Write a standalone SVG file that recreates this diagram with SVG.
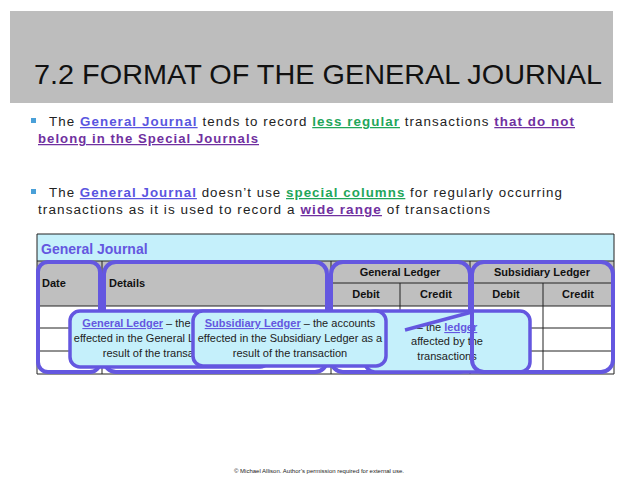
<svg xmlns="http://www.w3.org/2000/svg" width="638" height="479" viewBox="0 0 638 479">
<style>
.b{font-family:"Liberation Sans",Arial,sans-serif;font-size:12.5px;fill:#222;letter-spacing:1px}
.gj{fill:#5a55e0;font-weight:bold;text-decoration:underline}
.gr{fill:#1fa65a;font-weight:bold;text-decoration:underline}
.pu{fill:#7030a0;font-weight:bold;text-decoration:underline}
.th{font-family:"Liberation Sans",Arial,sans-serif;font-size:11px;font-weight:bold;fill:#111}
.ol{fill:none;stroke:#6457e0;stroke-width:4}
.co{fill:#c5f0fb;stroke:#6457e0;stroke-width:3.5}
.ct{font-family:"Liberation Sans",Arial,sans-serif;font-size:11px;fill:#222;text-anchor:middle}
.cl{fill:#6457e0;font-weight:bold;text-decoration:underline}
.g{stroke:#222;stroke-width:1}
</style>
<defs>
<clipPath id="c1"><rect x="70" y="305" width="122" height="70"/></clipPath>
<clipPath id="c3"><rect x="388" y="305" width="150" height="70"/></clipPath>
</defs>
<rect width="638" height="479" fill="#fff"/>
<g id="title">
<rect x="10" y="11" width="603" height="92" fill="#bdbdbd"/>
<text x="34" y="84" font-family="Liberation Sans,sans-serif" font-size="28" fill="#111" textLength="568" lengthAdjust="spacingAndGlyphs">7.2 FORMAT OF THE GENERAL JOURNAL</text>
</g>
<g id="bullets">
<rect x="31" y="118" width="5" height="5" fill="#4aa0d8"/>
<text class="b" x="49" y="126" textLength="526" lengthAdjust="spacingAndGlyphs">The <tspan class="gj">General Journal</tspan> tends to record <tspan class="gr">less regular</tspan> transactions <tspan class="pu">that do not</tspan></text>
<text class="b" x="38" y="143" textLength="221" lengthAdjust="spacingAndGlyphs"><tspan class="pu">belong in the Special Journals</tspan></text>
<rect x="31" y="189" width="5" height="5" fill="#4aa0d8"/>
<text class="b" x="49" y="197" textLength="514" lengthAdjust="spacingAndGlyphs">The <tspan class="gj">General Journal</tspan> doesn’t use <tspan class="gr">special columns</tspan> for regularly occurring</text>
<text class="b" x="38" y="214" textLength="453" lengthAdjust="spacingAndGlyphs">transactions as it is used to record a <tspan class="pu">wide range</tspan> of transactions</text>
</g>
<g id="table">
<rect x="37" y="234" width="577" height="27" fill="#c5f0fb"/>
<rect x="37" y="261" width="577" height="45" fill="#bfbfbf"/>
<g class="g">
<line x1="37" y1="234" x2="614" y2="234"/><line x1="37" y1="261" x2="614" y2="261"/>
<line x1="331" y1="283" x2="614" y2="283"/><line x1="37" y1="306" x2="614" y2="306"/>
<line x1="37" y1="328" x2="614" y2="328"/><line x1="37" y1="351" x2="614" y2="351"/><line x1="37" y1="374" x2="614" y2="374"/>
<line x1="37" y1="234" x2="37" y2="374"/><line x1="614" y1="234" x2="614" y2="374"/>
<line x1="102" y1="261" x2="102" y2="374"/><line x1="331" y1="261" x2="331" y2="374"/>
<line x1="400" y1="283" x2="400" y2="374"/><line x1="470" y1="261" x2="470" y2="374"/><line x1="543" y1="283" x2="543" y2="374"/>
</g>
<text x="41" y="254" font-family="Liberation Sans,Arial,sans-serif" font-size="14" font-weight="bold" fill="#6457e0">General Journal</text>
<text class="th" x="42" y="287">Date</text>
<text class="th" x="109" y="287">Details</text>
<text class="th" x="400" y="276" text-anchor="middle">General Ledger</text>
<text class="th" x="542" y="276" text-anchor="middle">Subsidiary Ledger</text>
<text class="th" x="366" y="298" text-anchor="middle">Debit</text>
<text class="th" x="436" y="298" text-anchor="middle">Credit</text>
<text class="th" x="506" y="298" text-anchor="middle">Debit</text>
<text class="th" x="578" y="298" text-anchor="middle">Credit</text>
</g>
<g id="outlines">
<rect class="ol" x="38" y="262" width="62" height="110" rx="10"/>
<rect class="ol" x="104" y="262" width="223" height="110" rx="12"/>
<rect class="ol" x="331" y="262" width="139" height="110" rx="12"/>
</g>
<g id="callout3">
<rect class="co" x="365" y="311" width="165" height="61" rx="10"/>
<g clip-path="url(#c3)">
<text class="ct" x="447" y="331">– the <tspan class="cl">ledger</tspan></text>
<text class="ct" x="447" y="345">affected by the</text>
<text class="ct" x="447" y="360">transactions</text>
</g>
</g>
<g id="connectors">
<line x1="405" y1="330" x2="472" y2="312" stroke="#6457e0" stroke-width="3.5"/>
</g>
<g id="outlineSL">
<rect class="ol" x="472" y="262" width="141" height="110" rx="12"/>
</g>
<g id="callout1">
<rect class="co" x="70" y="311" width="200" height="56" rx="10"/>
<g clip-path="url(#c1)">
<text class="ct" x="160" y="327"><tspan class="cl">General Ledger</tspan> – the accounts</text>
<text class="ct" x="160" y="342">effected in the General Ledger as a</text>
<text class="ct" x="160" y="357">result of the transaction</text>
</g>
</g>
<g id="callout2">
<rect class="co" x="193" y="311" width="193" height="55" rx="10"/>
<text class="ct" x="290" y="327"><tspan class="cl">Subsidiary Ledger</tspan> – the accounts</text>
<text class="ct" x="290" y="342">effected in the Subsidiary Ledger as a</text>
<text class="ct" x="290" y="357">result of the transaction</text>
</g>
<text x="319" y="473" font-family="Liberation Sans,Arial,sans-serif" font-size="6" fill="#222" text-anchor="middle">© Michael Allison. Author’s permission required for external use.</text>
</svg>
